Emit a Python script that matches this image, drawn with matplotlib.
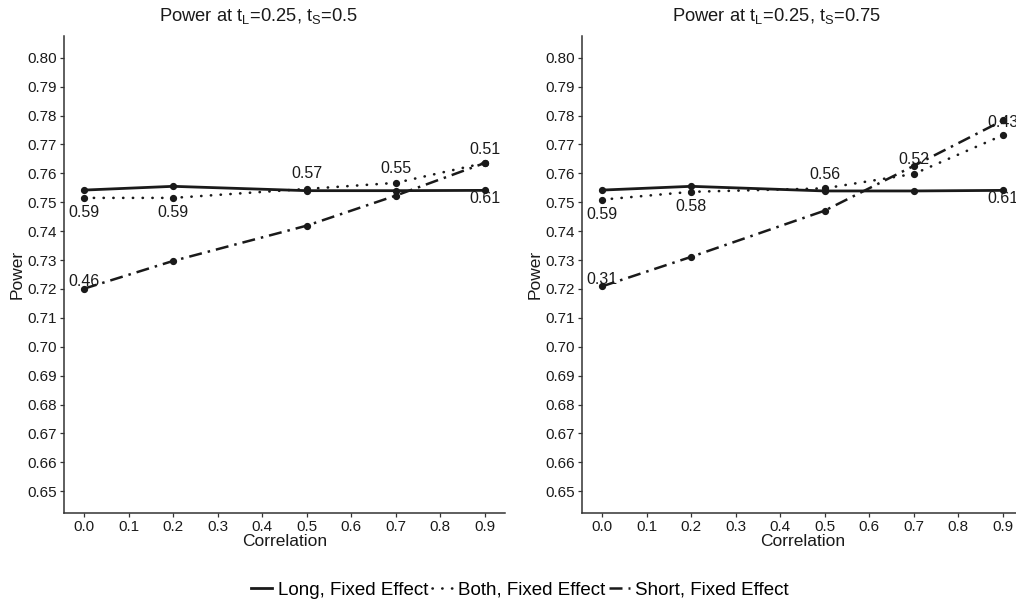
import matplotlib
matplotlib.use("Agg")
import matplotlib.pyplot as plt
from matplotlib.lines import Line2D

# data
correlation = [0.0, 0.2, 0.5, 0.7, 0.9]

left_long = [0.7542, 0.7555, 0.7540, 0.7540, 0.7541]
left_both = [0.7515, 0.7515, 0.7546, 0.7567, 0.7636]
left_short = [0.7201, 0.7297, 0.7419, 0.7523, 0.7636]

right_long = [0.7542, 0.7555, 0.7539, 0.7539, 0.7541]
right_both = [0.7509, 0.7536, 0.7548, 0.7598, 0.7732]
right_short = [0.7209, 0.7311, 0.7471, 0.7626, 0.7783]

# point labels: (correlation, series, text)
left_labels = [(0.0, "both", "0.59"), (0.2, "both", "0.59"),
               (0.5, "both", "0.57"), (0.7, "both", "0.55"),
               (0.9, "both", "0.51"), (0.9, "long", "0.61"),
               (0.0, "short", "0.46")]
right_labels = [(0.0, "both", "0.59"), (0.2, "both", "0.58"),
                (0.5, "both", "0.56"), (0.7, "short", "0.52"),
                (0.9, "short", "0.43"), (0.9, "long", "0.61"),
                (0.0, "short", "0.31")]

# vertical label offsets (pixels, + is up), same order as the labels
left_offsets = [-15, -15, 15, 14, 13, -8, 7]
right_offsets = [-15, -15, 14, 6, -2, -8, 7]

y_ticks = [0.65 + 0.01 * i for i in range(16)]
x_ticks = [0.1 * i for i in range(10)]

titles = ["Power at t$_{\\rm L}$=0.25, t$_{\\rm S}$=0.5",
          "Power at t$_{\\rm L}$=0.25, t$_{\\rm S}$=0.75"]
legend_names = ["Long, Fixed Effect", "Both, Fixed Effect",
                "Short, Fixed Effect"]

plt.rcParams["font.family"] = ["Liberation Sans", "DejaVu Sans"]
plt.rcParams["mathtext.fontset"] = "custom"
plt.rcParams["mathtext.rm"] = "Liberation Sans"
plt.rcParams["mathtext.it"] = "Liberation Sans"

INK = "#1a1a1a"
STYLES = {
    "long": dict(linestyle="-", linewidth=2.0),
    "both": dict(linestyle=(0, (0.1, 3.6)), linewidth=1.9,
                 dash_capstyle="round"),
    "short": dict(linestyle=(0, (5.2, 2.4, 1.0, 2.4)), linewidth=1.8),
}

fig = plt.figure(figsize=(10.16, 6.01), dpi=100)
W, H = 1016.0, 601.0
ax_left = fig.add_axes([64 / W, (H - 513) / H, 441 / W, 477 / H])
ax_right = fig.add_axes([582 / W, (H - 513) / H, 441 / W, 477 / H])


def draw_panel(ax, long_vals, both_vals, short_vals, labels, offsets,
               title):
    series = {"long": long_vals, "both": both_vals, "short": short_vals}
    for name in ["long", "both", "short"]:
        ax.plot(correlation, series[name], color=INK, marker="o",
                markersize=4.2, **STYLES[name])
    for (x, name, text), dy in zip(labels, offsets):
        y = series[name][correlation.index(x)]
        ax.annotate(text, (x, y), xytext=(0, dy * 0.72),
                    textcoords="offset points", ha="center",
                    va="center", fontsize=11.5, color=INK,
                    annotation_clip=False)

    ax.set_xlim(-0.045, 0.945)
    ax.set_ylim(0.6425, 0.8075)
    ax.set_xticks(x_ticks)
    ax.set_xticklabels([f"{t:.1f}" for t in x_ticks])
    ax.set_yticks(y_ticks)
    ax.set_yticklabels([f"{t:.2f}" for t in y_ticks])
    ax.tick_params(labelsize=11, length=3, width=0.9, color="#333333",
                   labelcolor=INK, pad=2)
    for side in ["top", "right"]:
        ax.spines[side].set_visible(False)
    for side in ["left", "bottom"]:
        ax.spines[side].set_color("#333333")
        ax.spines[side].set_linewidth(1.1)
    ax.set_xlabel("Correlation", fontsize=12.5, color=INK, labelpad=0)
    ax.set_ylabel("Power", fontsize=12.5, color=INK, labelpad=2)

    # title centred over the whole panel, axis labels included
    x0 = ax.get_position().x0
    fig.text(x0 + 195 / W, 1 - 16 / H, title, ha="center", va="center",
             fontsize=13.2, color=INK)


draw_panel(ax_left, left_long, left_both, left_short, left_labels,
           left_offsets, titles[0])
draw_panel(ax_right, right_long, right_both, right_short, right_labels,
           right_offsets, titles[1])

handles = [Line2D([], [], color=INK, **STYLES[name])
           for name in ["long", "both", "short"]]
fig.legend(handles, legend_names, loc="center", ncol=3,
           bbox_to_anchor=(520 / W, (H - 590) / H), frameon=False,
           fontsize=13.5, handlelength=1.1, handletextpad=0.3,
           columnspacing=0.2)

fig.savefig("out.png", dpi=100)
